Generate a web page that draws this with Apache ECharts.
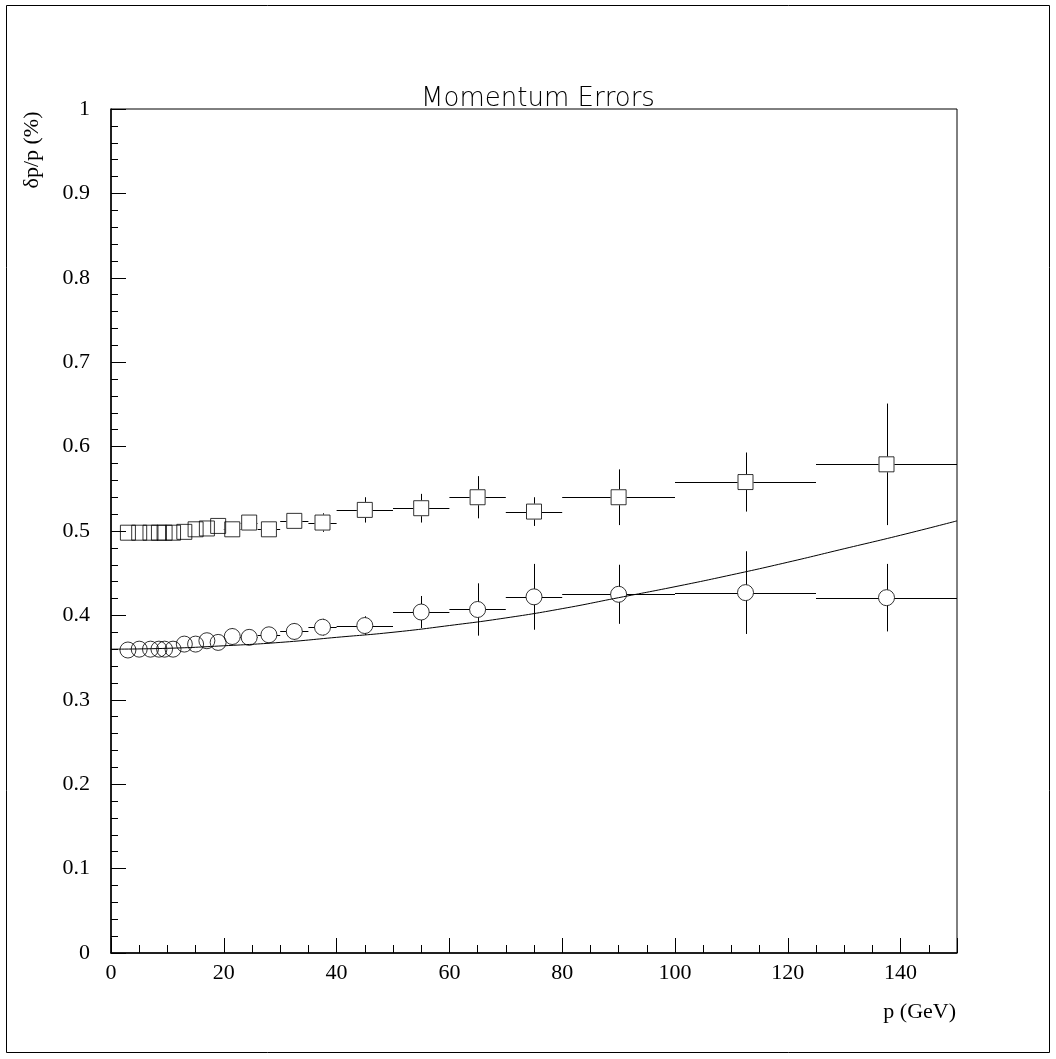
<!DOCTYPE html>
<html>
<head>
<meta charset="utf-8">
<script src="https://cdn.jsdelivr.net/npm/echarts@6/dist/echarts.min.js"></script>
<style>
html,body{margin:0;padding:0;background:#fff;}
#chart{width:1056px;height:1059px;}
</style>
</head>
<body>
<div id="chart"></div>
<script>
// ---- data ----
const pCenter = [3,5,7,8.5,9.5,11,13,15,17,19,21.5,24.5,28,32.5,37.5,45,55,65,75,90,112.5,137.5];
const pLow    = [2,4,6,8,9,10,12,14,16,18,20,23,26,30,35,40,50,60,70,80,100,125];
const pHigh   = [4,6,8,9,10,12,14,16,18,20,23,26,30,35,40,50,60,70,80,100,125,150];

const circleVals = [0.359,0.360,0.360,0.360,0.360,0.360,0.366,0.366,0.370,0.368,0.375,0.374,0.377,0.381,0.386,0.388,0.404,0.407,0.422,0.425,0.427,0.421];
const circleErrs = [0.004,0.004,0.004,0.004,0.004,0.004,0.005,0.005,0.006,0.006,0.010,0.009,0.009,0.010,0.010,0.011,0.019,0.031,0.039,0.035,0.049,0.040];

const squareVals = [0.498,0.498,0.498,0.498,0.498,0.498,0.499,0.502,0.503,0.506,0.502,0.510,0.502,0.512,0.510,0.525,0.527,0.540,0.523,0.540,0.558,0.579];
const squareErrs = [0.004,0.004,0.004,0.004,0.004,0.004,0.004,0.005,0.005,0.006,0.006,0.007,0.008,0.009,0.011,0.015,0.017,0.025,0.017,0.033,0.035,0.072];

const fitP    = [0,10,20,30,40,50,60,70,80,90,100,110,120,130,140,150];
const fitVals = [0.360,0.361,0.364,0.368,0.374,0.380,0.388,0.397,0.408,0.421,0.434,0.448,0.463,0.479,0.495,0.512];

const titleText = 'Momentum Errors';
const yName = 'δp/p (%)';
const xName = 'p (GeV)';

// ---- build ----
function errData(vals, errs){
  return pCenter.map((p,i)=>[p, vals[i], pLow[i], pHigh[i], errs[i]]);
}
const GAP = 8;
function renderErr(params, api){
  const x = api.value(0), y = api.value(1), lo = api.value(2), hi = api.value(3), e = api.value(4);
  const c = api.coord([x,y]);
  const xl = api.coord([lo,y])[0], xh = api.coord([hi,y])[0];
  const yt = api.coord([x,y+e])[1], yb = api.coord([x,y-e])[1];
  const st = {stroke:'#000', lineWidth:1};
  const ch = [];
  const cx = Math.round(c[0])+0.5, cy = Math.round(c[1])+0.5;
  if (c[0]-GAP > xl) ch.push({type:'line', shape:{x1:xl,y1:cy,x2:c[0]-GAP,y2:cy}, style:st, silent:true});
  if (xh > c[0]+GAP) ch.push({type:'line', shape:{x1:c[0]+GAP,y1:cy,x2:xh,y2:cy}, style:st, silent:true});
  if (c[1]-GAP > yt) ch.push({type:'line', shape:{x1:cx,y1:yt,x2:cx,y2:c[1]-GAP}, style:st, silent:true});
  if (yb > c[1]+GAP) ch.push({type:'line', shape:{x1:cx,y1:c[1]+GAP,x2:cx,y2:yb}, style:st, silent:true});
  return {type:'group', children:ch};
}

const serif = '"Liberation Serif","Times New Roman",serif';
const chart = echarts.init(document.getElementById('chart'));
chart.setOption({
  animation:false,
  backgroundColor:'#fff',
  title:{
    text:titleText, left:533, top:81, textAlign:'center',
    textStyle:{fontFamily:'"DejaVu Sans"', fontWeight:200, fontSize:26, color:'#000'}
  },
  grid:{left:111, right:99, top:109, bottom:106, show:true, borderColor:'#000', borderWidth:1, backgroundColor:'transparent'},
  xAxis:[{
    type:'value', min:0, max:150, interval:20,
    axisLine:{show:true, lineStyle:{color:'#000', width:1.5}},
    axisTick:{show:true, inside:true, length:15, lineStyle:{color:'#000', width:1}},
    axisLabel:{color:'#000', fontFamily:serif, fontSize:22, margin:9,
      formatter:v=> (v===150 ? '' : String(v))},
    splitLine:{show:false}
  },{
    type:'value', min:0, max:150, interval:5, position:'bottom',
    axisLine:{show:false},
    axisTick:{show:true, inside:true, length:8, lineStyle:{color:'#000', width:1}},
    axisLabel:{show:false},
    splitLine:{show:false}
  }],
  yAxis:{
    type:'value', min:0, max:1, interval:0.1,
    axisLine:{show:true, lineStyle:{color:'#000', width:1.5}},
    axisTick:{show:true, inside:true, length:15, lineStyle:{color:'#000', width:1}},
    minorTick:{show:true, splitNumber:5, length:7, lineStyle:{color:'#000', width:1}},
    axisLabel:{color:'#000', fontFamily:serif, fontSize:22, margin:21,
      formatter:v=> String(Math.round(v*10)/10)},
    splitLine:{show:false}, minorSplitLine:{show:false}
  },
  graphic:[
    {type:'rect', shape:{x:6.5,y:5.5,width:1043,height:1047}, style:{fill:'none', stroke:'#000', lineWidth:1}, silent:true, z:-10},
    {type:'text', x:32, y:150, rotation:Math.PI/2,
      style:{text:yName, font:'22px '+serif, fill:'#000', align:'center', verticalAlign:'middle'}},
    {type:'text', x:956, y:1012,
      style:{text:xName, font:'22px '+serif, fill:'#000', align:'right', verticalAlign:'middle'}}
  ],
  series:[
    {type:'line', data:fitP.map((p,i)=>[p,fitVals[i]]), smooth:true, showSymbol:false, symbol:'none',
      lineStyle:{color:'#000', width:1}, z:2},
    {type:'custom', data:errData(circleVals,circleErrs), renderItem:renderErr, encode:{x:0,y:1}, z:3},
    {type:'custom', data:errData(squareVals,squareErrs), renderItem:renderErr, encode:{x:0,y:1}, z:3},
    {type:'scatter', data:pCenter.map((p,i)=>[p,circleVals[i]]), symbol:'circle', symbolSize:16,
      itemStyle:{color:'rgba(0,0,0,0)', borderColor:'#000', borderWidth:1}, z:4},
    {type:'scatter', data:pCenter.map((p,i)=>[p,squareVals[i]]), symbol:'rect', symbolSize:15,
      itemStyle:{color:'rgba(0,0,0,0)', borderColor:'#000', borderWidth:1}, z:4}
  ]
});
</script>
</body>
</html>
